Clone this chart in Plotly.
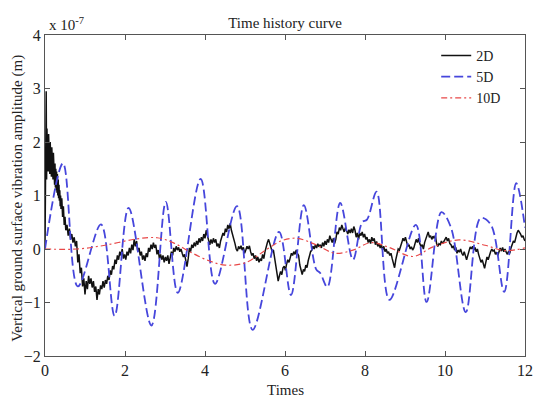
import plotly.graph_objects as go

# ---------------- data (amplitudes in units of 1e-7 m) ----------------
black_time = [
    0.00, 0.01, 0.02, 0.03, 0.04, 0.05, 0.06, 0.07, 0.08, 0.09,
    0.10, 0.11, 0.12, 0.13, 0.14, 0.15, 0.16, 0.17, 0.18, 0.19,
    0.20, 0.21, 0.22, 0.23, 0.24, 0.25, 0.26, 0.27, 0.28, 0.29,
    0.30, 0.31, 0.32, 0.33, 0.34, 0.35, 0.36, 0.37, 0.38, 0.39,
    0.40, 0.42, 0.44, 0.46, 0.48, 0.50, 0.52, 0.55, 0.58, 0.61,
    0.64, 0.67, 0.70, 0.73, 0.76, 0.79, 0.82, 0.85, 0.88, 0.91,
    0.94, 0.97, 1.00, 1.03, 1.06, 1.09, 1.12, 1.15, 1.18, 1.21,
    1.24, 1.27, 1.30, 1.33, 1.36, 1.39, 1.42, 1.45, 1.48, 1.51,
    1.54, 1.57, 1.60, 1.63, 1.66, 1.69, 1.72, 1.75, 1.78, 1.81,
    1.84, 1.87, 1.90, 1.93, 1.96, 1.99, 2.02, 2.05, 2.08, 2.11,
    2.14, 2.17, 2.20, 2.23, 2.26, 2.29, 2.32, 2.35, 2.38, 2.41,
    2.44, 2.47, 2.50, 2.53, 2.56, 2.59, 2.62, 2.65, 2.68, 2.71,
    2.74, 2.77, 2.80, 2.83, 2.86, 2.89, 2.92, 2.95, 2.98, 3.01,
    3.04, 3.07, 3.10, 3.13, 3.16, 3.19, 3.22, 3.25, 3.28, 3.31,
    3.34, 3.37, 3.40, 3.43, 3.46, 3.49, 3.52, 3.55, 3.58, 3.61,
    3.64, 3.67, 3.70, 3.73, 3.76, 3.79, 3.82, 3.85, 3.88, 3.91,
    3.94, 3.97, 4.00, 4.03, 4.06, 4.09, 4.12, 4.15, 4.18, 4.21,
    4.24, 4.27, 4.30, 4.33, 4.36, 4.39, 4.42, 4.45, 4.48, 4.51,
    4.54, 4.57, 4.60, 4.63, 4.66, 4.69, 4.72, 4.75, 4.78, 4.81,
    4.84, 4.87, 4.90, 4.93, 4.96, 4.99, 5.02, 5.05, 5.08, 5.11,
    5.14, 5.17, 5.20, 5.23, 5.26, 5.29, 5.32, 5.35, 5.38, 5.41,
    5.44, 5.47, 5.50, 5.53, 5.56, 5.59, 5.62, 5.65, 5.68, 5.71,
    5.74, 5.77, 5.80, 5.83, 5.86, 5.89, 5.92, 5.95, 5.98, 6.01,
    6.04, 6.07, 6.10, 6.13, 6.16, 6.19, 6.22, 6.25, 6.28, 6.31,
    6.34, 6.37, 6.40, 6.43, 6.46, 6.49, 6.52, 6.55, 6.58, 6.61,
    6.64, 6.67, 6.70, 6.73, 6.76, 6.79, 6.82, 6.85, 6.88, 6.91,
    6.94, 6.97, 7.00, 7.03, 7.06, 7.09, 7.12, 7.15, 7.18, 7.21,
    7.24, 7.27, 7.30, 7.33, 7.36, 7.39, 7.42, 7.45, 7.48, 7.51,
    7.54, 7.57, 7.60, 7.63, 7.66, 7.69, 7.72, 7.75, 7.78, 7.81,
    7.84, 7.87, 7.90, 7.93, 7.96, 7.99, 8.02, 8.05, 8.08, 8.11,
    8.14, 8.17, 8.20, 8.23, 8.26, 8.29, 8.32, 8.35, 8.38, 8.41,
    8.44, 8.47, 8.50, 8.53, 8.56, 8.59, 8.62, 8.65, 8.68, 8.71,
    8.74, 8.77, 8.80, 8.83, 8.86, 8.89, 8.92, 8.95, 8.98, 9.01,
    9.04, 9.07, 9.10, 9.13, 9.16, 9.19, 9.22, 9.25, 9.28, 9.31,
    9.34, 9.37, 9.40, 9.43, 9.46, 9.49, 9.52, 9.55, 9.58, 9.61,
    9.64, 9.67, 9.70, 9.73, 9.76, 9.79, 9.82, 9.85, 9.88, 9.91,
    9.94, 9.97, 10.00, 10.03, 10.06, 10.09, 10.12, 10.15, 10.18, 10.21,
    10.24, 10.27, 10.30, 10.33, 10.36, 10.39, 10.42, 10.45, 10.48, 10.51,
    10.54, 10.57, 10.60, 10.63, 10.66, 10.69, 10.72, 10.75, 10.78, 10.81,
    10.84, 10.87, 10.90, 10.93, 10.96, 10.99, 11.02, 11.05, 11.08, 11.11,
    11.14, 11.17, 11.20, 11.23, 11.26, 11.29, 11.32, 11.35, 11.38, 11.41,
    11.44, 11.47, 11.50, 11.53, 11.56, 11.59, 11.62, 11.65, 11.68, 11.71,
    11.74, 11.77, 11.80, 11.83, 11.86, 11.89, 11.92, 11.95, 11.98, 12.00,
]
black_amp = [
    0.0, 2.2, 0.55, 2.95, 1.3, 2.25, 1.55, 2.1, 1.45, 2.15,
    1.6, 1.95, 1.4, 2.0, 1.5, 1.85, 1.35, 1.9, 1.45, 1.75,
    1.3, 1.8, 1.35, 1.65, 1.2, 1.6, 1.15, 1.5, 1.1, 1.45,
    1.05, 1.4, 1.0, 1.3, 0.95, 1.2, 0.9, 1.1, 0.8, 1.0,
    0.75, 0.95, 0.6, 0.8, 0.45, 0.6, 0.35, 0.45, 0.25, 0.38,
    0.18, 0.28, 0.12, 0.22, 0.05, 0.15, -0.25, -0.1, -0.45, -0.35,
    -0.7, -0.55, -0.85, -0.6, -0.75, -0.5, -0.65, -0.55, -0.72, -0.6,
    -0.8, -0.7, -0.95, -0.75, -0.85, -0.68, -0.75, -0.6, -0.72, -0.58,
    -0.65, -0.5, -0.58, -0.4, -0.48, -0.32, -0.38, -0.2, -0.28, -0.12,
    -0.2, -0.05, -0.12, 0.0, -0.18, -0.1, -0.2, -0.05, -0.12, 0.02,
    -0.08, 0.08, -0.02, 0.18, 0.05, 0.15, -0.05, 0.02, -0.12, -0.05,
    -0.2, -0.12, -0.22, -0.08, -0.15, 0.02, -0.05, 0.08, 0.0, 0.12,
    0.02, 0.08, -0.1, -0.02, -0.18, -0.1, -0.2, -0.12, -0.25, -0.15,
    -0.22, -0.12, -0.28, -0.18, -0.05, -0.12, 0.02, -0.05, 0.05, -0.02,
    0.03, -0.05, 0.0, -0.08, -0.15, -0.1, -0.25, -0.33, -0.18, 0.02,
    -0.05, 0.08, 0.02, 0.12, 0.05, 0.15, 0.08, 0.2, 0.12, 0.22,
    0.15, 0.28, 0.2, 0.35, 0.25, 0.15, 0.08, 0.18, 0.1, 0.2,
    0.12, 0.18, 0.05, 0.1, 0.02, 0.15, 0.22, 0.3, 0.25, 0.38,
    0.32, 0.45, 0.38, 0.48, 0.35, 0.28, 0.2, 0.1, 0.0, -0.04,
    0.05, 0.0, 0.06, -0.02, 0.03, -0.08, -0.02, 0.05, 0.0, 0.06,
    -0.05, -0.12, -0.08, -0.18, -0.12, -0.22, -0.15, -0.25, -0.18, -0.22,
    -0.1, -0.18, -0.05, 0.05, 0.12, 0.18, 0.1, 0.02, -0.05, -0.02,
    -0.15, -0.3, -0.45, -0.6, -0.5, -0.42, -0.48, -0.35, -0.32, -0.4,
    -0.28, -0.2, -0.25, -0.15, -0.08, -0.12, -0.05, -0.1, -0.02, -0.08,
    -0.12, -0.3, -0.42, -0.48, -0.38, -0.42, -0.3, -0.35, -0.22, -0.12,
    -0.05, -0.02, 0.05, 0.0, 0.08, 0.02, 0.1, 0.04, 0.08, 0.02,
    0.12, 0.05, 0.15, 0.08, 0.18, 0.12, 0.25, 0.18, 0.12, 0.2,
    0.1, 0.18, 0.32, 0.28, 0.4, 0.35, 0.45, 0.38, 0.32, 0.4,
    0.35, 0.28, 0.36, 0.3, 0.38, 0.3, 0.42, 0.35, 0.22, 0.3,
    0.18, 0.3, 0.25, 0.32, 0.22, 0.28, 0.18, 0.22, 0.12, 0.18,
    0.1, 0.22, 0.15, 0.2, 0.08, 0.14, 0.05, 0.1, 0.02, 0.08,
    -0.02, 0.05, -0.05, 0.0, -0.08, -0.05, -0.12, -0.08, -0.18, -0.3,
    -0.35, -0.2, -0.1, 0.0, -0.02, 0.08, 0.12, 0.2, 0.15, 0.22,
    0.1, 0.05, 0.08, 0.0, 0.04, -0.02, 0.02, 0.1, 0.18, 0.12,
    0.2, 0.1, 0.05, 0.08, 0.0, 0.12, 0.2, 0.28, 0.32, 0.22,
    0.25, 0.18, 0.24, 0.2, 0.25, 0.1, 0.05, 0.1, 0.08, 0.15,
    0.1, 0.14, 0.18, 0.22, 0.15, 0.2, 0.1, 0.08, 0.02, 0.06,
    -0.02, 0.03, -0.08, -0.02, -0.06, 0.0, -0.08, -0.12, -0.05, -0.15,
    -0.2, -0.12, -0.02, 0.04, 0.0, 0.05, -0.02, 0.03, -0.05, 0.0,
    -0.1, -0.18, -0.25, -0.2, -0.3, -0.36, -0.25, -0.15, -0.2, -0.1,
    -0.05, 0.0, -0.04, -0.02, -0.1, -0.06, -0.12, -0.05, 0.02, -0.04,
    0.03, -0.05, 0.0, -0.06, -0.1, -0.04, -0.08, 0.02, 0.08, 0.15,
    0.12, 0.22, 0.3, 0.35, 0.32, 0.28, 0.22, 0.25, 0.18, 0.15,
]

blue_time = [0.00, 0.45, 0.82, 1.40, 1.74, 2.09, 2.66, 3.02, 3.32, 3.89,
             4.25, 4.80, 5.19, 5.85, 6.15, 6.47, 6.78, 6.88, 7.06, 7.38,
             7.70, 7.93, 8.05, 8.29, 8.61, 9.27, 9.54, 9.91, 10.15, 10.52,
             10.89, 11.15, 11.48, 11.78, 12.00]
blue_amp = [0.0, 1.6, -0.7, 0.46, -1.25, 0.77, -1.43, 0.88, -0.82, 1.31,
            -0.65, 0.8, -1.51, 0.32, -0.86, 0.82, -0.38, -0.45, -0.71, 0.86,
            -0.2, 0.5, 0.55, 1.07, -0.95, 0.45, -0.99, 0.69, 0.4, -1.18,
            0.58, 0.45, -0.8, 1.23, 0.4]

red_time = [0.0, 0.8, 1.5, 2.3, 2.8, 3.2, 3.64, 4.1, 4.5, 5.0, 5.5, 5.9,
            6.3, 6.8, 7.25, 7.7, 8.15, 8.6, 9.2, 9.7, 10.35, 11.0, 11.5, 12.0]
red_amp = [0.0, 0.0, 0.07, 0.19, 0.21, 0.12, -0.06, -0.22, -0.3, -0.26, -0.03, 0.15,
           0.2, 0.07, -0.08, -0.02, 0.12, 0.03, -0.14, 0.04, 0.17, 0.07, -0.03, 0.02]

series_names = ["2D", "5D", "10D"]
x_ticks = [0, 2, 4, 6, 8, 10, 12]
y_ticks = [-2, -1, 0, 1, 2, 3, 4]

FONT = "Liberation Serif, Times New Roman, serif"

fig = go.Figure()
fig.add_trace(go.Scatter(x=black_time, y=black_amp, mode="lines", name=series_names[0],
                         line=dict(color="#111111", width=1.5)))
fig.add_trace(go.Scatter(x=blue_time, y=blue_amp, mode="lines", name=series_names[1],
                         line=dict(color="#4646dc", width=1.8, dash="9px,4px",
                                   shape="spline", smoothing=1.0)))
fig.add_trace(go.Scatter(x=red_time, y=red_amp, mode="lines", name=series_names[2],
                         line=dict(color="#e84848", width=1.2, dash="6px,3px,2px,3px",
                                   shape="spline", smoothing=1.0)))

axis_common = dict(showline=True, linecolor="#555555", linewidth=1, mirror="ticks",
                   ticks="inside", ticklen=5, tickcolor="#555555", showgrid=False,
                   zeroline=False, tickfont=dict(family=FONT, size=16, color="#222"))

# the page body adds an 8px offset, so the figure is sized to fit the window
fig.update_layout(
    width=533, height=392,
    margin=dict(l=37, r=8, t=27, b=44),
    paper_bgcolor="white", plot_bgcolor="white",
    font=dict(family=FONT, size=15, color="#222"),
    title=dict(text="Time history curve", x=0.5, xref="paper", y=0.963,
               yanchor="middle", font=dict(family=FONT, size=15, color="#222")),
    xaxis=dict(range=[0, 12], tickvals=x_ticks, **axis_common),
    yaxis=dict(range=[-2, 4], tickvals=y_ticks, **axis_common),
    showlegend=True,
    legend=dict(x=0.815, y=0.985, xanchor="left", yanchor="top",
                bgcolor="rgba(255,255,255,0)", font=dict(family=FONT, size=14, color="#222"),
                tracegroupgap=0),
    annotations=[
        dict(text="x 10<sup>-7</sup>", xref="paper", yref="paper", x=0.004, y=1.0,
             xanchor="left", yanchor="bottom", showarrow=False,
             font=dict(family=FONT, size=15, color="#222")),
        dict(text="Vertical ground surface vibration amplitude (m)", xref="paper", yref="paper",
             x=-0.056, y=0.49, xanchor="center", yanchor="middle", textangle=-90,
             showarrow=False, font=dict(family=FONT, size=15, color="#222")),
        dict(text="Times", xref="paper", yref="paper", x=0.5, y=-0.106,
             xanchor="center", yanchor="middle", showarrow=False,
             font=dict(family=FONT, size=15, color="#222")),
    ],
)

fig.write_html("out.html")
